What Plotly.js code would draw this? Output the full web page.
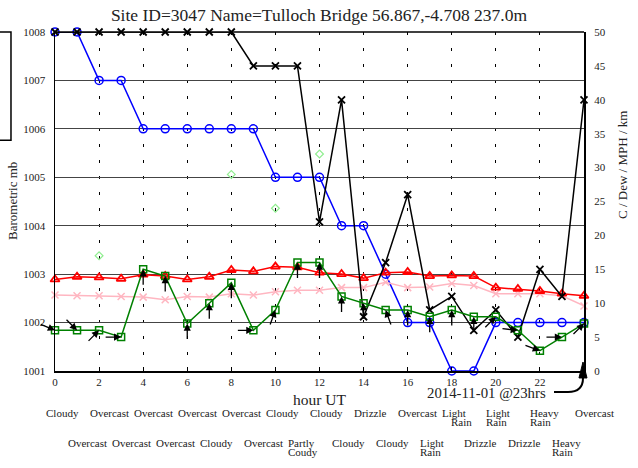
<!DOCTYPE html>
<html><head><meta charset="utf-8">
<script src="https://cdn.plot.ly/plotly-3.0.1.min.js"></script>
<style>html,body{margin:0;padding:0;background:#fff}#chart{width:638px;height:468px}</style>
</head><body><div id="chart"></div>
<script>
// ---- data ----
const hours = [0,1,2,3,4,5,6,7,8,9,10,11,12,13,14,15,16,17,18,19,20,21,22,23,24];
const pressure = [1008,1008,1007,1007,1006,1006,1006,1006,1006,1006,1005,1005,1005,1004,1004,1003,1002,1002,1001,1001,1002,1002,1002,1002,1002];
const gust = [50,50,50,50,50,50,50,50,50,45,45,45,22,40,8,16,26,9,11,6,9,5,15,11,40];
const temperature = [13.5,13.9,13.8,13.6,14.2,14.0,13.5,13.9,14.9,14.7,15.4,15.3,14.5,14.3,13.7,14.5,14.6,14.0,14.1,14.0,12.3,12.1,11.8,11.4,11.1];
const dewPoint = [11.2,11.1,11.1,11.0,10.9,10.5,11.0,10.9,11.4,11.2,11.7,11.9,11.9,12.3,12.3,13.1,12.3,12.4,12.9,12.6,11.4,11.4,11.4,11.1,9.6];
const windSpeed = [6,6,6,5,15,14,7,10,13,6,9,16,16,11,10,9,9,8,9,8,8,6,3,5,7];
const windDirFrom = [293,315,225,270,180,180,180,180,180,270,200,180,180,180,180,160,180,180,180,180,225,276,290,270,225];
const visibility = [null,null,17,null,null,null,null,null,29,null,24,null,32,null,null,null,null,null,null,null,null,null,null,null,null];
const weather = ["Cloudy","Overcast","Overcast","Overcast","Overcast","Overcast","Overcast","Cloudy","Overcast","Overcast","Cloudy","Partly|Coudy","Cloudy","Cloudy","Drizzle","Cloudy","Overcast","Light|Rain","Light|Rain","Drizzle","Light|Rain","Drizzle","Heavy|Rain","Heavy|Rain","Overcast"];
const xTicks = [0,2,4,6,8,10,12,14,16,18,20,22];
const leftTicks = [1001,1002,1003,1004,1005,1006,1007,1008];
const rightTicks = [0,5,10,15,20,25,30,35,40,45,50];
const titleText = "Site ID=3047 Name=Tulloch Bridge 56.867,-4.708 237.0m";
const stampText = "2014-11-01 @23hrs";

const FONT = '"Liberation Serif","Times New Roman",serif';

const traces = [
  {x: hours, y: visibility, yaxis:'y2', mode:'markers', cliponaxis:false,
   marker:{symbol:'diamond-open', size:6, color:'#90ee90', line:{width:1.2}}},
  {x: hours, y: dewPoint, yaxis:'y2', mode:'lines+markers', cliponaxis:false,
   line:{color:'#ffb6c1', width:1.5}, marker:{symbol:'x-thin-open', size:7, color:'#ffb6c1', line:{width:1.5, color:'#ffb6c1'}}},
  {x: hours, y: temperature, yaxis:'y2', mode:'lines+markers', cliponaxis:false,
   line:{color:'#ff0000', width:1.5}, marker:{symbol:'triangle-up-open', size:8, color:'#ff0000', line:{width:1.8}}},
  {x: hours, y: pressure, yaxis:'y', mode:'lines+markers', cliponaxis:false,
   line:{color:'#0000ff', width:1.5}, marker:{symbol:'circle-open', size:8, color:'#0000ff', line:{width:1.5}}},
  {x: hours, y: gust, yaxis:'y2', mode:'lines+markers', cliponaxis:false,
   line:{color:'#000000', width:1.5}, marker:{symbol:'x-thin-open', size:7, color:'#000000', line:{width:1.8, color:'#000'}}},
  {x: hours, y: windSpeed, yaxis:'y2', mode:'lines+markers', cliponaxis:false,
   line:{color:'#008000', width:1.5}, marker:{symbol:'square-open', size:7, color:'#008000', line:{width:1.5}}}
];

const annotations = [];
// wind direction arrows
const L = 17;
hours.forEach((h,i)=>{
  const heading = (windDirFrom[i] + 180) * Math.PI/180;
  annotations.push({x:h, y:windSpeed[i], xref:'x', yref:'y2', text:'', showarrow:true,
    ax: -L*Math.sin(heading), ay: L*Math.cos(heading), axref:'pixel', ayref:'pixel',
    arrowhead:2, arrowsize:1.1, arrowwidth:1.3, arrowcolor:'#000', standoff:0});
});
// weather labels
hours.forEach((h,i)=>{
  const parts = weather[i].split('|');
  const baseY = (i % 2 === 0) ? -0.124 : -0.2124;
  parts.forEach((p,j)=>{
    annotations.push({x:h, y:baseY, xref:'x', yref:'paper', text:p, showarrow:false,
      xanchor:'left', yanchor:'middle', xshift:-11.5 + ((i===18 && j===1)?9:0), yshift:-9*j,
      font:{family:FONT, size:11, color:'#222'}});
  });
});
// axis titles
annotations.push({x:0.5, y:-0.0855, xref:'paper', yref:'paper', text:'hour UT', showarrow:false,
  xanchor:'center', yanchor:'middle', font:{family:FONT, size:15.5, color:'#222'}});
annotations.push({x:-0.0794, y:0.5015, xref:'paper', yref:'paper', text:'Barometric mb', showarrow:false,
  textangle:-90, xanchor:'center', yanchor:'middle', font:{family:FONT, size:13, color:'#222'}});
annotations.push({x:1.0737, y:0.6077, xref:'paper', yref:'paper', text:'C / Dew / MPH / km', showarrow:false,
  textangle:-90, xanchor:'center', yanchor:'middle', font:{family:FONT, size:13, color:'#222'}});
annotations.push({x:0.815, y:-0.065, xref:'paper', yref:'paper', text:stampText, showarrow:false,
  xanchor:'center', yanchor:'middle', font:{family:FONT, size:14.8, color:'#222'}});

const shapes = [
  {type:'line', xref:'paper', yref:'paper', x0:0, x1:1, y0:1, y1:1, line:{color:'#000', width:1.5}},
  {type:'rect', xref:'paper', yref:'paper', x0:-0.12, x1:-0.0832, y0:0.681, y1:1.0, line:{color:'#000', width:1.5}},
  {type:'path', xref:'paper', yref:'paper', path:'M0.9433,-0.0619 L0.9698,-0.0619 Q0.9981,-0.0619 0.9981,-0.0206', line:{color:'#000', width:2}},
  {type:'path', xref:'paper', yref:'paper', path:'M0.9905,-0.0206 L0.9981,0.0265 L1.0057,-0.0206 Z', fillcolor:'#000', line:{color:'#000', width:1}}
];

const layout = {
  width:638, height:468,
  margin:{l:55, r:54, t:32, b:97},
  paper_bgcolor:'#fff', plot_bgcolor:'#fff',
  showlegend:false,
  font:{family:FONT, size:11, color:'#222'},
  title:{text:titleText, font:{family:FONT, size:17.5, color:'#222'}, x:0.5, xanchor:'center', y:0.968, yanchor:'middle', yref:'container'},
  xaxis:{range:[0,24], tickvals:xTicks, ticktext:xTicks.map(String), showline:true, linecolor:'#000', linewidth:2,
    ticks:'inside', ticklen:4, tickcolor:'#000', showgrid:true, gridcolor:'#000', gridwidth:1, griddash:'3px,13px',
    zeroline:false, tickfont:{family:FONT, size:11, color:'#222'}, fixedrange:true},
  yaxis:{range:[1001,1008], tickvals:leftTicks, ticktext:leftTicks.map(String), showline:true, linecolor:'#000', linewidth:1.5,
    ticks:'', showgrid:true, gridcolor:'#444', gridwidth:1, zeroline:false, ticklabelstandoff:6,
    tickfont:{family:FONT, size:11, color:'#222'}},
  yaxis2:{range:[0,50], overlaying:'y', side:'right', tickvals:rightTicks, ticktext:rightTicks.map(String),
    showline:true, linecolor:'#000', linewidth:2, ticks:'', showgrid:false, zeroline:false, ticklabelstandoff:6,
    tickfont:{family:FONT, size:11, color:'#222'}},
  annotations: annotations,
  shapes: shapes
};
Plotly.newPlot('chart', traces, layout, {staticPlot:true});
</script></body></html>
